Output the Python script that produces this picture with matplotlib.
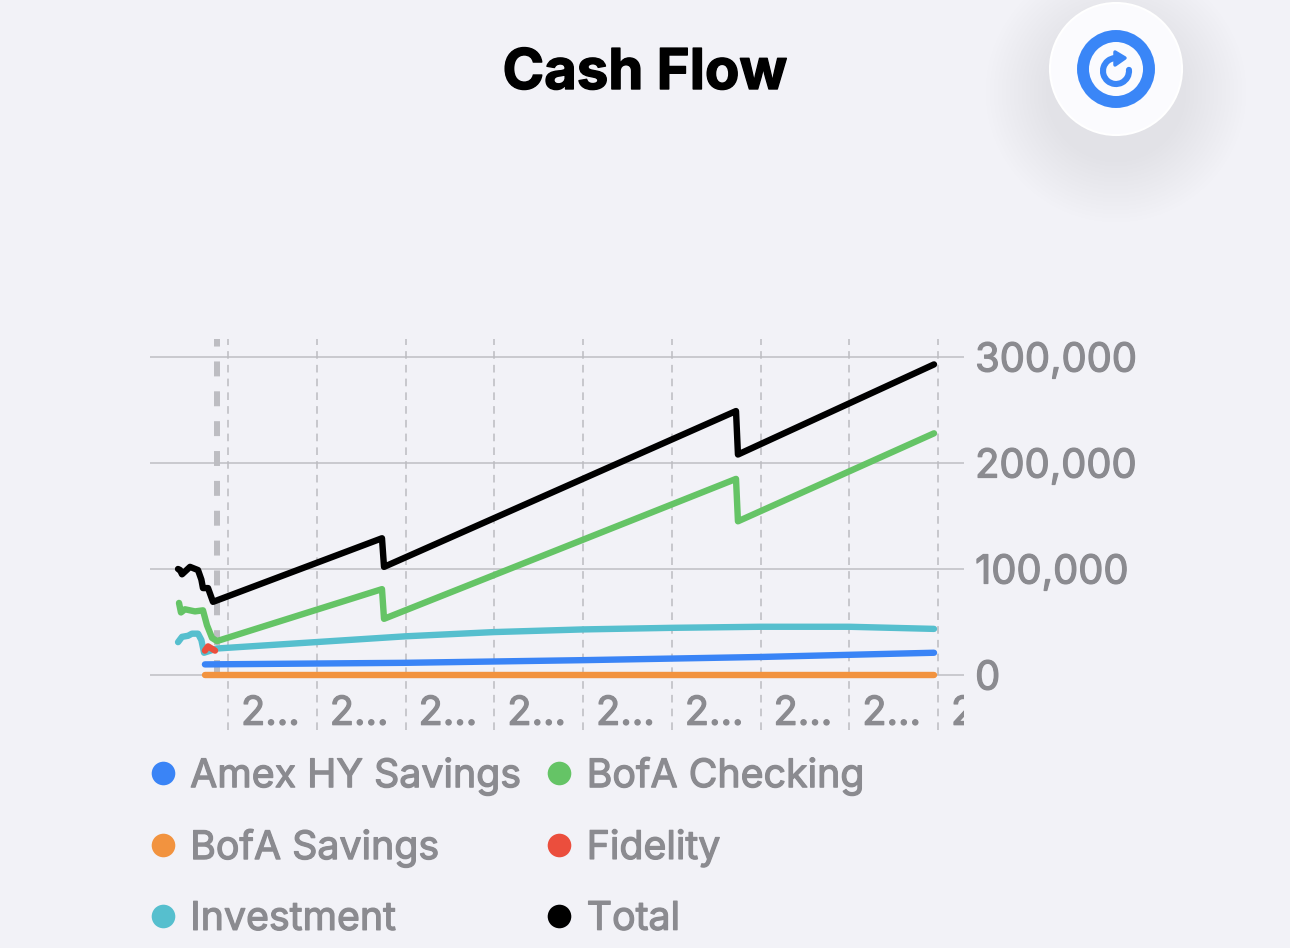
import numpy as np
import matplotlib
matplotlib.use("Agg")
import matplotlib.pyplot as plt
import matplotlib.patheffects as pe
from matplotlib.patches import Circle, Arc, Polygon
from matplotlib.lines import Line2D

W, H = 1290, 948
BG = "#f2f2f7"
GREY = "#8b8b90"
plt.rcParams['font.family'] = ['Inter', 'DejaVu Sans']

# x values are in tick units (one unit = one dashed gridline)
amex_x = [-0.26, 2.0, 4.0, 6.0, 7.955]
amex_y = [10000, 11500, 14000, 17000, 21000]
checking_x = [-0.552, -0.53, -0.485, -0.372, -0.282, -0.237, -0.18, -0.124, 1.735, 1.758, 5.724, 5.746, 7.955]
checking_y = [68000, 59000, 62000, 60000, 61000, 47000, 35000, 32000, 81000, 53000, 185000, 145000, 228000]
savings_x = [-0.26, 7.955]
savings_y = [200, 200]
fidelity_x = [-0.26, -0.225, -0.146]
fidelity_y = [23000, 27000, 23000]
invest_x = [-0.563, -0.518, -0.45, -0.406, -0.338, -0.3, -0.27, -0.124, 2.0, 3.0, 4.0, 5.0, 6.0, 7.0, 7.955]
invest_y = [31000, 36000, 37000, 39000, 39000, 33000, 21000, 25000, 36500, 40500, 43000, 44500, 45500, 45500, 43500]
total_x = [-0.563, -0.54, -0.518, -0.428, -0.338, -0.3, -0.282, -0.225, -0.169, 1.735, 1.758, 5.724, 5.746, 7.955]
total_y = [100000, 99000, 95000, 102000, 99000, 90000, 82000, 82000, 69000, 129000, 102000, 249000, 208000, 293000]

names = ["Amex HY Savings", "BofA Savings", "Investment", "BofA Checking", "Fidelity", "Total"]
colors = ["#3a84f6", "#f2933f", "#56bfce", "#65c466", "#eb4e3d", "#000000"]

y_ticks = [0, 100000, 200000, 300000]
x_ticks = list(range(9))
x_labels = ["2..."] * 8 + ["2"]
today_x = -0.124

medium = [pe.withStroke(linewidth=0.9, foreground=GREY)]

fig = plt.figure(figsize=(W / 100, H / 100), dpi=100, facecolor=BG)

# backdrop in pixel coords: title and refresh button
bg = fig.add_axes([0, 0, 1, 1], zorder=0)
bg.set_xlim(0, W)
bg.set_ylim(H, 0)
bg.axis("off")

for r in np.arange(130, 66, -4):
    bg.add_patch(Circle((1116, 92), r, fc="#d8d8de", ec="none", alpha=0.012))
bg.add_patch(Circle((1116, 69), 66, fc="#fbfbfe", ec="#ffffff", lw=1.5))
bg.add_patch(Circle((1116, 69), 33, fc="none", ec="#3a86f7", lw=8.6))
bg.add_patch(Arc((1116, 71), 26, 26, theta1=-5, theta2=265, ec="#3a86f7", lw=4.4, capstyle="round"))
bg.add_patch(Polygon([[1115, 52], [1125, 58], [1115, 65]], closed=True, fc="#3a86f7", ec="#3a86f7",
                     lw=2.5, joinstyle="round"))

bg.text(645, 74, "Cash Flow", ha="center", va="center", fontsize=40.5, fontweight="bold", color="black",
        path_effects=[pe.withStroke(linewidth=1.0, foreground="black")])

# chart, axes box in pixels: x 150-964, y 339-730
ax = fig.add_axes([150 / W, 1 - 730 / H, 814 / W, 391 / H], zorder=1)
ax.patch.set_alpha(0)
ax.set_xlim((150 - 228) / 88.75, (964 - 228) / 88.75)
ax.set_ylim(-51887, 316981)
for s in ax.spines.values():
    s.set_visible(False)

ax.yaxis.tick_right()
ax.set_yticks(y_ticks)
ax.set_yticklabels(["{:,}".format(v) for v in y_ticks], fontsize=28.7, color=GREY, path_effects=medium)
ax.tick_params(axis="y", length=0, pad=8)
ax.set_xticks([])

for v in y_ticks:
    ax.axhline(v, color="#c2c2c7", lw=1.2, zorder=1)
for t, lab in zip(x_ticks, x_labels):
    ax.axvline(t, color="#bcbcc1", lw=1.1, dashes=(5, 4), zorder=1)
    ax.text(t + 13 / 88.75, -37000, lab, ha="left", va="center", fontsize=28.7, color=GREY,
            clip_on=True, path_effects=medium)

ax.plot([today_x, today_x], [0, 316981], color="#bdbdc2", lw=4.3, dashes=(2.5, 2.5), zorder=2)

kw = dict(lw=4.6, solid_capstyle="round", solid_joinstyle="round", zorder=3)
ax.plot(savings_x, savings_y, color=colors[1], **kw)
ax.plot(amex_x, amex_y, color=colors[0], **kw)
ax.plot(invest_x, invest_y, color=colors[2], **kw)
ax.plot(fidelity_x, fidelity_y, color=colors[4], **kw)
ax.plot(checking_x, checking_y, color=colors[3], **kw)
ax.plot(total_x, total_y, color=colors[5], **kw)

handles = [Line2D([], [], ls="", marker="o", ms=17, mec="none", color=c) for c in colors]
leg = fig.legend(handles, names, ncol=2, loc="upper left", bbox_to_anchor=(143 / W, 1 - 757 / H),
                 frameon=False, labelcolor=GREY, handletextpad=0.2, columnspacing=0.47,
                 labelspacing=0.86, borderpad=0, borderaxespad=0, handlelength=1.0,
                 prop={"size": 28.3})
for t in leg.get_texts():
    t.set_path_effects(medium)

fig.savefig("out.png", dpi=100, facecolor=BG)
